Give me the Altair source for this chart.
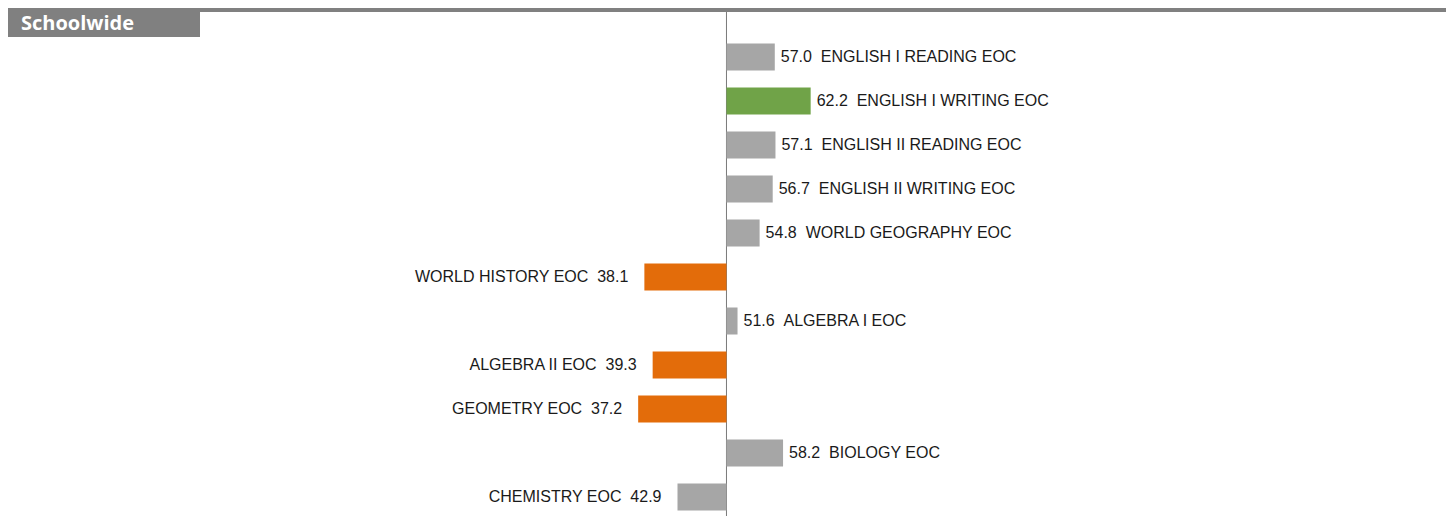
import altair as alt
import pandas as pd

subjects = [
    "ENGLISH I READING EOC",
    "ENGLISH I WRITING EOC",
    "ENGLISH II READING EOC",
    "ENGLISH II WRITING EOC",
    "WORLD GEOGRAPHY EOC",
    "WORLD HISTORY EOC",
    "ALGEBRA I EOC",
    "ALGEBRA II EOC",
    "GEOMETRY EOC",
    "BIOLOGY EOC",
    "CHEMISTRY EOC",
]
scores = [57.0, 62.2, 57.1, 56.7, 54.8, 38.1, 51.6, 39.3, 37.2, 58.2, 42.9]
baseline = 50
title_text = "Schoolwide"

NB = "\u00a0\u00a0"
df = pd.DataFrame({"subject": subjects, "score": scores})
df["label_r"] = [f"{s:.1f}{NB}{n}" for n, s in zip(subjects, scores)]
df["label_l"] = [f"{n}{NB}{s:.1f}" for n, s in zip(subjects, scores)]

W, H = 1438, 508
xscale = alt.Scale(domain=[-54.13, 154.28], nice=False, zero=False)
yscale = alt.Scale(domain=subjects, range=[27, 511], paddingInner=0.386, paddingOuter=0.193)

base = alt.Chart(df).transform_calculate(
    status="datum.score >= 60 ? 'high' : (datum.score < 40 ? 'low' : 'mid')"
)

bars = base.mark_bar().encode(
    x=alt.X("score:Q", scale=xscale, axis=None),
    x2=alt.datum(baseline),
    y=alt.Y("subject:N", sort=subjects, scale=yscale, axis=None),
    color=alt.Color(
        "status:N",
        scale=alt.Scale(domain=["high", "mid", "low"], range=["#70A348", "#A6A6A6", "#E36C0A"]),
        legend=None,
    ),
)

text_style = dict(font="Arial, Liberation Sans", fontSize=16, color="#1a1a1a", baseline="middle")

right_labels = base.transform_filter(f"datum.score >= {baseline}").mark_text(
    align="left", dx=6, **text_style
).encode(
    x=alt.X("score:Q", scale=xscale, axis=None),
    y=alt.Y("subject:N", sort=subjects, scale=yscale, axis=None),
    text="label_r:N",
)

left_labels = base.transform_filter(f"datum.score < {baseline}").mark_text(
    align="right", dx=-16, **text_style
).encode(
    x=alt.X("score:Q", scale=xscale, axis=None),
    y=alt.Y("subject:N", sort=subjects, scale=yscale, axis=None),
    text="label_l:N",
)

center = alt.Chart(pd.DataFrame({"v": [baseline]})).mark_rule(color="#7a7a7a", strokeWidth=1).encode(
    x=alt.X("v:Q", scale=xscale, axis=None),
    y=alt.value(0),
    y2=alt.value(H),
)

hdr = pd.DataFrame({"t": [title_text]})
top_band = alt.Chart(hdr).mark_rect(color="#808080").encode(
    x=alt.value(0), x2=alt.value(W), y=alt.value(0), y2=alt.value(4)
)
title_box = alt.Chart(hdr).mark_rect(color="#808080").encode(
    x=alt.value(0), x2=alt.value(192), y=alt.value(0), y2=alt.value(29)
)
title = alt.Chart(hdr).mark_text(
    align="left", baseline="alphabetic", font="Open Sans", fontWeight="bold",
    fontSize=20, color="white"
).encode(x=alt.value(13), y=alt.value(22), text="t:N")

chart = alt.layer(center, bars, right_labels, left_labels, top_band, title_box, title).properties(
    width=W, height=H, autosize=alt.AutoSizeParams(type="none"), padding=0
).configure_view(stroke=None)

chart.save("out.html", embed_options={"renderer": "svg", "actions": False})
